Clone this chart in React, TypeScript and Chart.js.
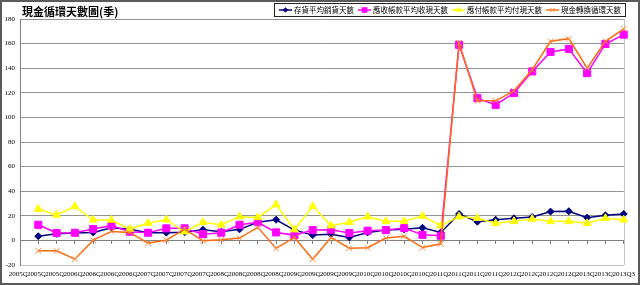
import React, { useEffect, useRef } from 'react';
import { Chart, registerables } from 'chart.js';

Chart.register(...registerables);

const chartTitle = '現金循環天數圖(季)';

const quarters = [
  '2005Q2', '2005Q3', '2005Q4',
  '2006Q1', '2006Q2', '2006Q3', '2006Q4',
  '2007Q1', '2007Q2', '2007Q3', '2007Q4',
  '2008Q1', '2008Q2', '2008Q3', '2008Q4',
  '2009Q1', '2009Q2', '2009Q3', '2009Q4',
  '2010Q1', '2010Q2', '2010Q3', '2010Q4',
  '2011Q1', '2011Q2', '2011Q3', '2011Q4',
  '2012Q1', '2012Q2', '2012Q3', '2012Q4',
  '2013Q1', '2013Q2', '2013Q3',
];

const seriesNames = ['存貨平均銷貨天數', '應收帳款平均收現天數', '應付帳款平均付現天數', '現金轉換循環天數'];

const inventoryDays = [
  null, 3.4, 5.4, 6.1, 6.5, 10.2, 9.1, 6.3, 6.3, 6.6, 8.7,
  7, 9, 14.7, 16.8, 8.4, 4.3, 4.9, 2.4, 6.5, 8.4, 9,
  10.3, 6.5, 21.5, 15.2, 16.8, 18, 19, 23.4, 23.7, 18.5, 20.4, 21.5,
];

const receivableDays = [
  null, 12.7, 6, 6.2, 9.2, 12, 7, 6.2, 9.8, 9.8, 5.1,
  6.3, 12.7, 14.7, 6.5, 4.3, 8.4, 8.7, 6, 7.9, 8.4, 10,
  4.5, 3.8, 159, 115.7, 110.2, 119.8, 137.4, 153.2, 155.7, 136, 159.7, 167.3,
];

const payableDays = [
  null, 25.5, 20.7, 27.7, 16.6, 16.6, 9.2, 14.1, 16.8, 7, 14.7,
  12.7, 19.3, 18.7, 29.1, 8.7, 27.7, 12, 14.7, 19.3, 15.5, 15.5,
  19.8, 12, 19.3, 18, 13.9, 15.5, 17.4, 15.5, 15.5, 13.9, 18, 16.8,
];

const cashCycleDays = [
  null, -8.5, -8.5, -15.3, 0.2, 7.3, 6.5, -2.2, 0.2, 9.2, -0.3,
  0.5, 1.9, 10.6, -6.5, 2.4, -15.3, 2.4, -6.3, -6, 1.9, 3.3,
  -5.8, -2.8, 160.5, 113.5, 113.5, 121.6, 138.8, 161.9, 164, 140.1, 161.9, 172,
];

const yMin = -20;
const yMax = 180;
const yStep = 20;

const seriesColors = ['#000080', '#FF00FF', '#FFFF00', '#FF6A10'];
const markerStyles = ['rectRot', 'rect', 'triangle', 'crossRot'];
const markerRadii = [3.5, 5, 4.5, 4];

const serifFont = '"Liberation Serif", "Times New Roman", serif';
const cjkFont = '"Noto Sans CJK TC", "Noto Sans CJK SC", sans-serif';

function drawMarker(ctx: CanvasRenderingContext2D, style: string, x: number, y: number, r: number, color: string) {
  ctx.save();
  ctx.fillStyle = color;
  ctx.strokeStyle = color;
  ctx.lineWidth = 1;
  ctx.beginPath();
  if (style === 'rectRot') {
    ctx.moveTo(x, y - r);
    ctx.lineTo(x + r, y);
    ctx.lineTo(x, y + r);
    ctx.lineTo(x - r, y);
    ctx.closePath();
    ctx.fill();
  } else if (style === 'rect') {
    const s = r * Math.SQRT1_2;
    ctx.rect(x - s, y - s, 2 * s, 2 * s);
    ctx.fill();
  } else if (style === 'triangle') {
    const w = r * Math.sin(Math.PI / 3);
    ctx.moveTo(x, y - r);
    ctx.lineTo(x + w, y + r / 2);
    ctx.lineTo(x - w, y + r / 2);
    ctx.closePath();
    ctx.fill();
  } else {
    const d = r * Math.SQRT1_2;
    ctx.moveTo(x - d, y - d);
    ctx.lineTo(x + d, y + d);
    ctx.moveTo(x + d, y - d);
    ctx.lineTo(x - d, y + d);
    ctx.stroke();
  }
  ctx.restore();
}

const decorPlugin = {
  id: 'decor',
  beforeDraw(chart: any) {
    const { ctx, width, height } = chart;
    ctx.save();
    ctx.fillStyle = '#ffffff';
    ctx.fillRect(0, 0, width, height);
    ctx.restore();
  },
  beforeDatasetsDraw(chart: any) {
    const { ctx, chartArea } = chart;
    ctx.save();
    ctx.strokeStyle = '#c4c4c4';
    ctx.lineWidth = 1;
    ctx.beginPath();
    ctx.moveTo(Math.round(chartArea.right) + 0.5, chartArea.top);
    ctx.lineTo(Math.round(chartArea.right) + 0.5, chartArea.bottom);
    ctx.stroke();
    ctx.restore();
  },
  afterDraw(chart: any) {
    const { ctx, width, height } = chart;
    ctx.save();
    ctx.fillStyle = '#000';
    ctx.textBaseline = 'middle';
    ctx.textAlign = 'left';
    ctx.font = `bold 11px ${cjkFont}`;
    ctx.fillText(chartTitle, 22, 12);

    ctx.font = `7.5px ${cjkFont}`;
    const ly = 10;
    let x = 279;
    chart.data.datasets.forEach((ds: any, i: number) => {
      ctx.strokeStyle = seriesColors[i];
      ctx.lineWidth = 1.5;
      ctx.beginPath();
      ctx.moveTo(x, ly);
      ctx.lineTo(x + 13, ly);
      ctx.stroke();
      drawMarker(ctx, markerStyles[i], x + 6.5, ly, markerRadii[i] * 0.8, i === 3 ? '#FF8C40' : seriesColors[i]);
      ctx.fillStyle = '#000';
      ctx.fillText(ds.label, x + 15, ly + 0.5);
      x += 15 + ctx.measureText(ds.label).width + 4;
    });
    ctx.strokeStyle = '#222';
    ctx.lineWidth = 1;
    ctx.strokeRect(274.5, 3.5, x - 274, 13);

    ctx.strokeStyle = '#5a5a5a';
    ctx.lineWidth = 2;
    ctx.strokeRect(1, 1, width - 2, height - 2);
    ctx.restore();
  },
};

export default function App() {
  const canvasRef = useRef<HTMLCanvasElement | null>(null);

  useEffect(() => {
    if (!canvasRef.current) return;
    const seriesData = [inventoryDays, receivableDays, payableDays, cashCycleDays];
    const chart = new Chart(canvasRef.current, {
      type: 'line',
      data: {
        labels: quarters,
        datasets: seriesData.map((data, i) => ({
          label: seriesNames[i],
          data,
          borderColor: seriesColors[i],
          backgroundColor: seriesColors[i],
          pointBackgroundColor: seriesColors[i],
          pointBorderColor: i === 3 ? '#FF8C40' : seriesColors[i],
          pointStyle: markerStyles[i] as any,
          pointRadius: markerRadii[i],
          pointBorderWidth: 1,
          borderWidth: 1.5,
          tension: 0,
          fill: false,
          order: 3 - i,
        })),
      },
      options: {
        responsive: false,
        animation: false,
        devicePixelRatio: 1,
        events: [],
        layout: { padding: { top: 19, right: 16, left: 0, bottom: 0 } },
        plugins: {
          legend: { display: false },
          title: { display: false },
          tooltip: { enabled: false },
        },
        scales: {
          x: {
            type: 'category',
            offset: false,
            grid: { display: false, drawTicks: false },
            border: { display: true, color: '#c4c4c4' },
            ticks: {
              autoSkip: false,
              maxRotation: 0,
              minRotation: 0,
              padding: 5,
              color: '#000',
              font: { family: serifFont, size: 7 },
              showLabelBackdrop: true,
              backdropColor: '#ffffff',
              backdropPadding: 0,
            } as any,
            afterFit: (s: any) => { s.height = 20; },
          },
          x2: {
            type: 'category',
            axis: 'x',
            position: { y: 0 },
            offset: false,
            grid: { drawOnChartArea: false, drawTicks: true, tickLength: 3, color: '#808080' },
            border: { display: true, color: '#808080' },
            ticks: { display: false },
          } as any,
          y: {
            min: yMin,
            max: yMax,
            grid: {
              drawTicks: false,
              color: (c: any) => (c.tick && c.tick.value === yMin ? 'rgba(0,0,0,0)' : '#939393'),
            },
            border: { display: true, color: '#808080' },
            ticks: {
              stepSize: yStep,
              padding: 5,
              color: '#000',
              font: { family: serifFont, size: 7 },
            },
            afterFit: (s: any) => { s.width = 20; },
          },
        },
      },
      plugins: [decorPlugin],
    });
    return () => chart.destroy();
  }, []);

  return (
    <div style={{ position: 'fixed', left: 0, top: 0, width: 640, height: 285 }}>
      <canvas ref={canvasRef} width={640} height={285} style={{ display: 'block' }} />
    </div>
  );
}
